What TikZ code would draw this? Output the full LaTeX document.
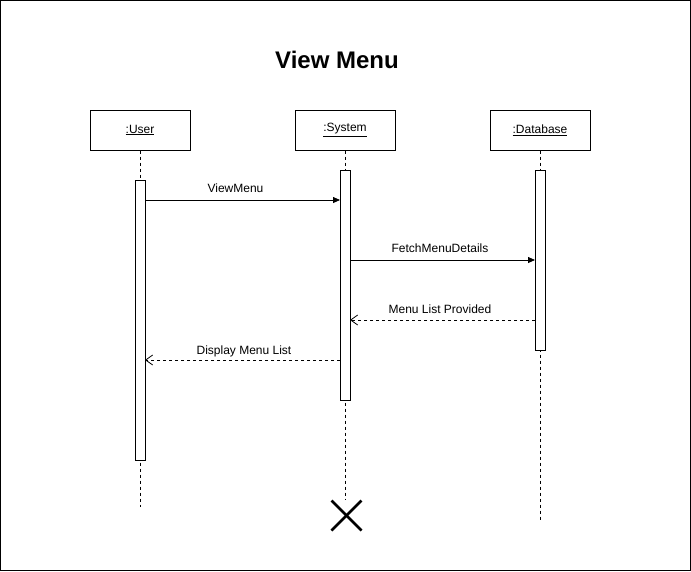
\documentclass[tikz,border=0pt]{standalone}
\usepackage{fontspec}
\setmainfont{Liberation Sans}
\usetikzlibrary{arrows.meta}
\begin{document}
\begin{tikzpicture}[x=1pt,y=-1pt,
  obj/.style={draw,line width=1pt,minimum width=100pt,minimum height=40pt,inner sep=0pt,font=\fontsize{12}{14}\selectfont,fill=white},
  act/.style={draw,line width=1pt,fill=white,minimum width=10pt,inner sep=0pt},
  life/.style={line width=0.8pt,dash pattern=on 3pt off 3pt},
  sync/.style={line width=0.8pt,-{Triangle[length=7pt,width=6pt]}},
  ret/.style={line width=0.8pt,dash pattern=on 3pt off 3pt,-{Straight Barb[length=7pt,width=10pt,line width=0.8pt]}},
  lbl/.style={font=\fontsize{12}{14}\selectfont,inner sep=1pt}]
\useasboundingbox (0,0) rectangle (691,571);
\draw[line width=1pt] (0.5,0.5) rectangle (690.5,570.5);
\node[font=\bfseries\fontsize{24}{28}\selectfont] (title) at (337,60) {View Menu};
% objects
\node[obj] (user) at (140,130) {\raisebox{-1pt}{\underline{:User}}};
\node[obj] (sys) at (345,130) {\raisebox{-1pt}{\underline{:System}}};
\node[obj] (db) at (540,130) {\raisebox{-1pt}{\underline{:Database}}};
% lifeline ends
\coordinate (userend) at (140,507);
\coordinate (sysend) at (345,500);
\coordinate (dbend) at (540,520);
\draw[life] (user.south) -- (userend);
\draw[life] (sys.south) -- (sysend);
\draw[life] (db.south) -- (dbend);
% activations
\node[act,minimum height=280pt] (ua) at (140,320) {};
\node[act,minimum height=230pt] (sa) at (345,285) {};
\node[act,minimum height=180pt] (da) at (540,260) {};
% messages
\coordinate (m1s) at (145,200); \coordinate (m1e) at (340,200);
\draw[sync] (m1s) -- (m1e);
\node[lbl] (l1) at (235.5,188) {ViewMenu};
\coordinate (m2s) at (350,260); \coordinate (m2e) at (535,260);
\draw[sync] (m2s) -- (m2e);
\node[lbl] (l2) at (440,248) {FetchMenuDetails};
\coordinate (m3s) at (535,320); \coordinate (m3e) at (350,320);
\draw[ret] (m3s) -- (m3e);
\node[lbl] (l3) at (440,309) {Menu List Provided};
\coordinate (m4s) at (340,360); \coordinate (m4e) at (145,360);
\draw[ret] (m4s) -- (m4e);
\node[lbl] (l4) at (244,351) {Display Menu List};
% destruction
\coordinate (x) at (346.5,515.5);
\draw[line width=2.5pt] ([shift={(-15,-15)}]x) -- ([shift={(15,15)}]x);
\draw[line width=2.5pt] ([shift={(-15,15)}]x) -- ([shift={(15,-15)}]x);
\end{tikzpicture}
\end{document}
